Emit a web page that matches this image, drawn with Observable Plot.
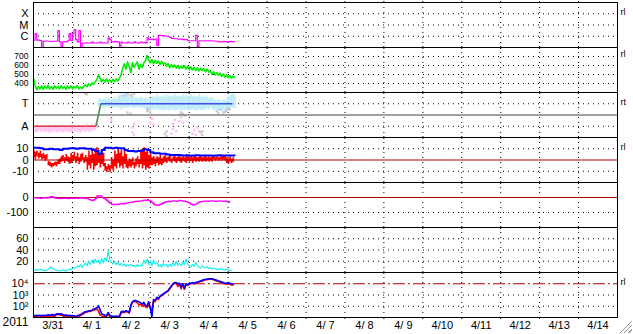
<!DOCTYPE html>
<html><head><meta charset="utf-8">
<script src="https://cdn.jsdelivr.net/npm/d3@7"></script>
<script src="https://cdn.jsdelivr.net/npm/@observablehq/plot@0.6"></script>
<style>
html,body{margin:0;padding:0;background:#fff;}
#chart{position:relative;width:633px;height:334px;overflow:hidden;background:#fff;}
#chart svg{position:absolute;left:0;overflow:visible;}
#grip{position:absolute;left:619px;top:320px;width:13px;height:13px;
 background:repeating-linear-gradient(-45deg,transparent 0 2px,#9a9a9a 2px 3px);
 clip-path:polygon(100% 0,100% 100%,0 100%);}
</style></head><body><div id="chart"><div id="grip"></div></div>
<script>
// ---------- axis / label data ----------
const yearLabel = "2011";
const dayLabels = ["3/31","4/ 1","4/ 2","4/ 3","4/ 4","4/ 5","4/ 6","4/ 7","4/ 8","4/ 9","4/10","4/11","4/12","4/13","4/14"];
const rightLabels = ["rl","rl","rt","rl","","","rl"];
const xrayTicks = [1e-6,1e-5,1e-4], xrayTickLabels = ["C","M","X"];
const speedTicks = [400,500,600,700], speedTickLabels = ["400","500","600","700"];
const sectorTicks = [90,270], sectorTickLabels = ["A","T"];
const imfTicks = [-10,0,10], imfTickLabels = ["-10","0","10"];
const dstTicks = [-100,0], dstTickLabels = ["-100","0"];
const idxTicks = [20,40,60], idxTickLabels = ["20","40","60"];
const fluxTicks = [1e2,1e3,1e4], fluxTickLabels = ["10²","10³","10⁴"];

// ---------- series (hourly from 2011-03-31 00:00 UTC unless noted) ----------
const xrayFlux = [4.5e-7,1.7e-6,4.5e-7,4.5e-7,4.2e-7,1.1e-7,3.6e-7,3.6e-7,3.8e-7,3.6e-7,3.6e-7,3.4e-7,3.6e-7,3.6e-7,3.8e-7,3.2e-6,3.2e-7,1.1e-7,3.2e-7,3.4e-7,3.2e-7,4e-7,1.7e-6,4e-7,1.7e-6,4e-6,5e-7,3.2e-7,3.2e-6,1.1e-7,
 2.5e-7,2.5e-7,2.6e-7,2.5e-7,2.5e-7,2.6e-7,3e-7,2.5e-7,2.5e-7,2.6e-7,2.5e-7,3e-7,2.5e-7,2.6e-7,2.5e-7,2.5e-7,
 7.2e-7,5e-7,3.2e-7,3.2e-7,3.5e-7,3.2e-7,3.2e-7,1.3e-7,3e-7,
 2.5e-7,2.5e-7,2.6e-7,3e-7,2.5e-7,2.5e-7,2.6e-7,3.2e-7,2.5e-7,2.5e-7,2.6e-7,3e-7,2.5e-7,2.8e-7,2.6e-7,
 7.2e-7,5e-7,5e-7,5.5e-7,5e-7,5.5e-7,1.5e-7,1.2e-6,1.2e-6,1.15e-6,1.1e-6,1.1e-6,1e-6,9e-7,8e-7,6.3e-7,6.3e-7,6e-7,6e-7,5.5e-7,5.5e-7,5.5e-7,5e-7,5e-7,5e-7,4e-7,4e-7,4e-7,4e-7,4e-7,1.2e-6,1.2e-7,
 4e-7,4e-7,3.8e-7,4e-7,4e-7,3.8e-7,4e-7,3.8e-7,4e-7,3.8e-7,3.6e-7,3.6e-7,
 3.2e-7,3.4e-7,3.2e-7,3.5e-7,3.2e-7,3.4e-7,3.2e-7,3.5e-7,3.2e-7,3.3e-7,3.4e-7];

const windSpeed = [455,380,330,365,340,375,335,370,345,380,340,365,335,375,345,370,340,375,345,365,335,370,345,375,340,365,350,375,340,360,345,
 370,385,365,395,375,405,390,420,440,
 495,460,420,445,415,450,420,440,415,445,420,450,430,455,
 500,570,620,560,640,590,520,630,580,610,640,560,610,580,630,650,
 710,660,630,665,620,655,625,650,610,645,615,
 630,590,620,575,610,580,605,570,600,565,595,570,600,560,590,
 555,585,550,580,545,575,540,570,545,565,530,560,525,545,
 500,530,495,520,490,515,480,505,470,495,465,490,460,480,470];

// sector: phi spread (deg) of away (h0..39) and toward (h40..124) clouds
const awayLo = [45,40,35,50,45,40,50,35,45,40,30,45,40,50,35,45,40,50,35,45,40,50,35,45,40,45,50,40,45,35,50,45,40,50,45,40,55,50,60,70];
const awayHi = [100,95,105,95,90,100,95,85,95,90,100,95,90,100,95,85,95,90,100,95,85,95,90,100,90,95,90,100,95,90,95,100,90,110,95,100,105,95,110,120];
const towardLo = [250,240,245,230,240,250,235,245,240,230,245,235,240,230,220,235,225,240,230,245,235,240,230,240,235,245,230,240,225,235,215,220,210,225,215,220,230,215,225,210,220,215,225,210,220,215,225,210,220,215,225,210,220,215,225,210,220,215,225,210,220,215,225,210,220,215,225,230,220,235,225,215,220,210,215,210,205,215,210,220,225,235,240,235,230];
const towardHi = [300,310,300,305,310,300,315,305,300,310,320,305,330,340,350,345,355,350,340,330,320,315,310,320,310,315,320,310,305,315,300,310,305,320,330,315,340,320,330,320,335,320,340,325,335,320,330,340,325,335,320,330,340,325,335,320,330,340,325,335,320,330,340,325,335,320,330,320,310,315,320,300,295,290,300,295,290,300,295,305,320,335,345,350,340];
const grayH = [32,33,56,58,60,61,62,58,60,70,71,72,70,81,82,82,90,91,92,93,103,104,104,113,115,117,119,121,114,118,120];
const grayPhi = [350,345,335,345,340,330,350,200,190,210,220,200,230,30,50,10,180,200,190,175,40,20,50,210,220,200,215,225,195,205,230];
const pinkH = [48,48,61,61,62,62,72,73,74,85,86,86,87,88,90,91,92,98,99,100,101,102];
const pinkPhi = [130,150,40,80,110,20,120,150,100,30,70,110,140,50,130,160,120,30,60,20,80,50];
const sectorH = [0,38.5,41.5,122.6];
const sectorPhi = [90,90,270,270];
const sectorColors = ["#e03c3c","#4a8a4a","#3c50e6"];

// IMF: Bt every 2 hours, Bz hourly spread
const imfBt = [11,11,10.5,9.5,9.5,10,9.5,9.5,9,10,10,10.5,10.5,10,10.5,10.5,10,10,9,8,5.5,9,11,11,10.5,11,10.5,10.5,9,8,
 8,7.5,8,8.5,9.5,9,7,6,6,5.5,5.5,5,4.5,4.5,4.5,4.3,4,4.2,3.8,4,4.3,4,3.9,4.1,4,3.8,4,4.2,3.9,4,4.1,3.9,4];
const bzLo = [2,0,3,1,2,0,1,-1,0,-5,-6,-7,-6,-5,-6,-4,-4,-2,-1,-3,-1,-2,-4,-3,-2,0,-3,-1,-4,-2,0,-3,-2,-9,-5,-8,-3,-9,-6,-5,-3,-7,-4,-6,-10,-11,-9,-11,-8,-10,
 -6,-8,-3,-7,-5,-8,-4,-7,-8,-6,-7,-5,-8,-6,-4,-7,-4,-8,-5,-9,-7,-8,-5,-5,-4,-6,-3,-5,-4,-5,-3,
 -2,-3,-1,-2,-3,-1,-2,-3,-1,-2,-3,-1,-2,-3,-1,-2,-1,-3,-1,-2,-1,-2,-1,-2,-1,-2,-1,-2,-1,-2,0,-1,0,-1,0,-1,0,-1,-3,-4,-2,-3,-2,-1];
const bzHi = [9,7,8,6,8,5,6,4,5,-1,-2,-3,-3,-2,-2,0,1,3,4,2,5,3,2,6,4,7,3,6,2,5,6,2,4,2,8,4,9,5,10,11,9,4,8,6,-3,-6,-4,-5,2,0,
 8,5,11,6,9,3,10,5,-1,1,0,2,-2,1,3,0,8,10,11,7,9,4,6,2,3,1,3,2,4,1,3,
 4,2,3,4,1,3,4,2,3,5,2,3,2,3,4,2,3,2,4,3,2,3,4,2,3,3,2,3,2,3,3,2,3,2,3,3,4,3,2,1,3,1,2,1];

const dst = [-3,-2,-4,-3,-5,-4,-3,-2,-4,-3,5,6,2,-4,-6,-5,-7,-6,-5,-6,-5,-7,-6,-5,-6,-5,-4,-5,-4,-3,
 -5,-4,-6,-5,-12,-18,-20,-15,-8,10,12,10,3,-5,-10,-20,-30,-38,-45,-48,-44,-47,-45,-42,-40,-44,-40,-38,-35,-33,
 -32,-30,-28,-25,-26,-24,-22,-20,-18,-20,-15,-20,-25,-35,-45,-50,-52,-50,-45,-40,-35,-30,-28,-25,-27,-24,-22,-24,-25,-22,
 -20,-22,-24,-25,-28,-32,-38,-45,-50,-48,-42,-36,-30,-28,-26,-25,-24,-25,-24,-22,-23,-24,-25,-24,-23,-24,-25,-24,-25,-26,-27,-30];

const indexVals = [6,4,5,4,6,5,4,3,4,5,8,10,6,5,4,3,4,3,4,5,3,4,6,5,7,9,8,12,10,14,9,13,17,12,20,14,22,16,24,18,
 22,15,25,17,26,20,38,24,18,15,20,14,18,13,16,12,15,11,14,12,15,11,13,10,14,11,13,12,22,16,24,14,20,12,22,15,18,11,14,10,
 16,12,14,10,15,11,18,12,20,13,16,12,18,14,24,15,12,10,14,11,18,12,10,8,12,9,8,10,7,9,6,8,7,6,5,7,6,5,4,6,5,4,3];

const fluxBlue = [16,14,16,15,16,14,16,15,16,17,16,17,18,16,20,22,20,22,18,16,17,15,16,14,15,14,13,14,16,18,
 22,28,32,35,40,40,45,56,63,71,112,50,22,18,16,14,28,16,13,13,13,13,13,13,32,35,32,40,35,28,
 126,251,316,316,282,251,200,158,224,126,100,251,79,11,398,316,631,501,794,1000,1259,1585,1995,2512,3981,6310,10000,12589,12589,10000,
 11220,5012,10000,3981,10000,7943,10000,11220,12589,11220,12589,14125,15849,17783,19953,22387,25119,25119,28184,28184,28184,25119,22387,19953,17783,15849,14125,12589,11220,11220,
 12589,11220,10000,8913];
const fluxRed = [12,12,13,12,13,12,12,13,12,13,12,13,14,12,16,20,18,16,14,12,13,12,12,11,12,11,11,12,13,15,
 18,22,28,30,35,35,40,45,50,56,40,18,14,12,11,12,20,12,11,11,11,11,11,11,25,30,28,35,30,25,
 100,224,282,251,200,126,158,100,178,89,79,200,63,50,316,251,501,398,708,891,1122,1413,1778,2239,3548,5623,8913,11220,11220,5623,
 10000,3548,8913,3162,8913,7079,8913,10000,11220,10000,11220,12589,14125,15849,17783,19953,22387,22387,25119,25119,25119,22387,19953,17783,15849,14125,12589,11220,10000,8913,
 10000,8913,7943,7943];

// ---------- helpers ----------
const HOUR = 3600e3, DAY = 24*HOUR;
const START = Date.UTC(2011,2,31), END = Date.UTC(2011,3,15);
const at = h => new Date(START + h*HOUR);
const dayBounds = d3.range(1, dayLabels.length).map(i => new Date(START + i*DAY));
const dayCenters = dayLabels.map((_, i) => new Date(START + i*DAY + DAY/2));
const hourly = (arr, step = 1) => arr.map((v, i) => ({t: at(i*step), v}));
const FONT = "'Liberation Sans', Arial, sans-serif";
const dotted = {stroke: "black", strokeOpacity: 1, strokeDasharray: "1,4"};
const chart = document.getElementById("chart");
const PTOP = 2, PH = 45;

function panel(i, o) {
  const mt = 3, mb = i === 6 ? 20 : 3;
  const last = i === 6;
  const marks = [
    Plot.gridX(dayBounds, dotted),
    Plot.gridY(o.grid, dotted),
    ...o.marks,
    Plot.frame({stroke: "black"}),
    Plot.axisX(dayBounds, {anchor: "top", tickSize: 2, tickFormat: () => ""}),
    Plot.axisX(dayBounds, {anchor: "bottom", tickSize: 2, tickFormat: () => ""}),
    Plot.axisY(o.ticks, {anchor: "left", tickSize: 0, tickPadding: 5, fontSize: o.fs || 11,
      tickFormat: d => o.labels[o.ticks.indexOf(d)]}),
  ];
  if (rightLabels[i]) marks.push(Plot.text([o.ticks[o.ticks.length - 1]], {
    y: d => d, text: () => rightLabels[i], frameAnchor: "right", dx: 3, dy: -2, textAnchor: "start", fontSize: 9}));
  if (last) {
    marks.push(Plot.axisX(dayCenters, {anchor: "bottom", tickSize: 0, tickPadding: 4, fontSize: 11,
      tickFormat: d => dayLabels[Math.floor((d - START) / DAY)]}));
    marks.push(Plot.text([yearLabel], {frameAnchor: "bottom-left", dx: -31, dy: 8, textAnchor: "start", fontSize: 12}));
  }
  const svg = Plot.plot({
    width: 633, height: PH + mt + mb,
    marginLeft: 33, marginRight: 16, marginTop: mt, marginBottom: mb,
    x: {type: "utc", domain: [new Date(START), new Date(END)], label: null},
    y: {...o.y, label: null},
    color: {type: "identity"},
    style: {background: "transparent", overflow: "visible", fontFamily: FONT, fontSize: "11px", color: "black"},
    marks
  });
  svg.style.top = (PTOP + PH*i - mt) + "px";
  chart.appendChild(svg);
}

// 1: X-ray
panel(0, {y: {type: "log", domain: [1e-7, 1e-3]}, grid: xrayTicks, ticks: xrayTicks, labels: xrayTickLabels,
  marks: [Plot.line(hourly(xrayFlux), {x: "t", y: "v", curve: "step-after", stroke: "#ff00ff", strokeWidth: 1.2, clip: true})]});

// 2: solar wind speed
panel(1, {y: {domain: [300, 800]}, grid: speedTicks, ticks: speedTicks, labels: speedTickLabels, fs: 8.5,
  marks: [Plot.line(hourly(windSpeed), {x: "t", y: "v", stroke: "#00ee00", strokeWidth: 1.6, clip: true})]});

// 3: sector
const awayData = awayLo.map((lo, i) => ({t1: at(i), t2: at(i+1), lo, hi: awayHi[i]}));
const towardData = towardLo.map((lo, i) => ({t1: at(40+i), t2: at(41+i), lo, hi: towardHi[i]}));
const sectorSegs = sectorColors.map((c, i) => ({t1: at(sectorH[i]), p1: sectorPhi[i], t2: at(sectorH[i+1]), p2: sectorPhi[i+1], c}));
panel(2, {y: {domain: [0, 360]}, grid: sectorTicks, ticks: sectorTicks, labels: sectorTickLabels,
  marks: [
    Plot.rect(awayData, {x1: "t1", x2: "t2", y1: "lo", y2: "hi", fill: "#ffb8f0", fillOpacity: 0.85, clip: true}),
    Plot.rect(towardData, {x1: "t1", x2: "t2", y1: "lo", y2: "hi", fill: "#b0e6ff", fillOpacity: 0.85, clip: true}),
    Plot.dot(grayH.map((h, i) => ({t: at(h), v: grayPhi[i]})), {x: "t", y: "v", symbol: "square", r: 1.3, fill: "#c8c8c8", clip: true}),
    Plot.dot(pinkH.map((h, i) => ({t: at(h), v: pinkPhi[i]})), {x: "t", y: "v", symbol: "square", r: 1.3, fill: "#ffb8f0", clip: true}),
    Plot.ruleY([180], {stroke: "#808080", strokeWidth: 1.3}),
    Plot.link(sectorSegs, {x1: "t1", y1: "p1", x2: "t2", y2: "p2", stroke: "c", strokeWidth: 1.5})
  ]});

// 4: IMF
panel(3, {y: {domain: [-20, 20]}, grid: [-10, 10], ticks: imfTicks, labels: imfTickLabels,
  marks: [
    Plot.areaY(bzLo.map((lo, i) => ({t: at(i), lo, hi: bzHi[i]})), {x: "t", y1: "lo", y2: "hi", curve: "step-after", fill: "#ff0000", clip: true}),
    Plot.ruleY([0], {stroke: "#b00000", strokeWidth: 1.2}),
    Plot.line(hourly(imfBt, 2), {x: "t", y: "v", curve: "step-after", stroke: "#0000ff", strokeWidth: 2, clip: true})
  ]});

// 5: Dst
panel(4, {y: {domain: [-200, 100]}, grid: [-100], ticks: dstTicks, labels: dstTickLabels,
  marks: [
    Plot.ruleY([0], {stroke: "#b00000", strokeWidth: 1.2}),
    Plot.line(hourly(dst), {x: "t", y: "v", curve: "step-after", stroke: "#ff00ff", strokeWidth: 1.3, clip: true})
  ]});

// 6: index
panel(5, {y: {domain: [0, 80]}, grid: idxTicks, ticks: idxTicks, labels: idxTickLabels,
  marks: [Plot.line(hourly(indexVals), {x: "t", y: "v", stroke: "#18eeee", strokeWidth: 1.2, clip: true})]});

// 7: flux
panel(6, {y: {type: "log", domain: [1e1, 1e5]}, grid: [1e2, 1e3], ticks: fluxTicks, labels: fluxTickLabels,
  marks: [
    Plot.ruleY([1e4], {stroke: "#b00000", strokeWidth: 1.2, strokeDasharray: "12,3,2,3"}),
    Plot.line(hourly(fluxRed), {x: "t", y: "v", stroke: "#ff0000", strokeWidth: 1.6, clip: true}),
    Plot.line(hourly(fluxBlue), {x: "t", y: "v", stroke: "#0000ff", strokeWidth: 1.6, clip: true})
  ]});
</script></body></html>
